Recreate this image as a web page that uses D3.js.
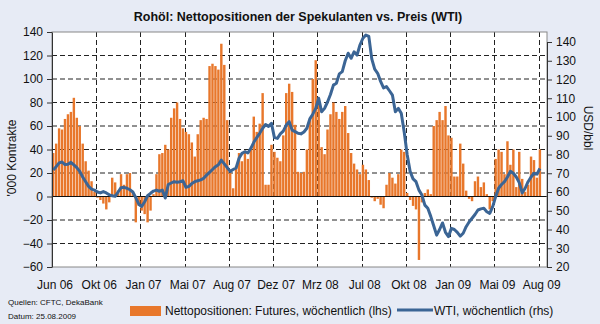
<!DOCTYPE html>
<html><head><meta charset="utf-8">
<script src="https://cdn.jsdelivr.net/npm/d3@7"></script>
<style>
html,body{margin:0;padding:0;background:#e7ebf5;}
svg{display:block;font-family:Arial,"Liberation Sans",sans-serif;}
</style></head>
<body><svg id="c" width="600" height="324"></svg>
<script>
// ---- data (weekly, Jun 2006 – Aug 2009) ----
const netPositions = [
 37,45,58,57,66,70,72,84,67,60,
 45,30,22,13,4,-1,-3,-6,-11,-5,
 16,12,5,19,10,19,20,3,-22,-8,
 -12,-15,-22,-12,2,19,36,37,44,40,
 67,75,80,66,58,55,53,46,34,53,
 65,67,66,111,113,111,108,130,112,65,
 20,7,26,37,30,39,32,41,68,55,
 62,88,10,10,44,38,33,30,52,88,
 96,89,61,21,20,21,40,65,100,116,
 84,42,36,57,70,80,72,66,72,77,
 54,37,28,23,19,27,23,14,-1,-4,
 -2,-7,-10,10,20,16,11,19,40,38,
 3,-3,-8,-11,-54,-5,3,6,2,60,
 65,72,65,77,52,50,17,17,45,28,
 5,-2,-4,13,17,8,12,2,-11,-4,
 32,40,38,19,47,27,40,8,38,15,
 4,10,34,31,16,40
];
const wti = [
 71.7,73.5,75.5,76,74.6,74.8,75.8,74.5,73,71,
 68,65.5,63,61.5,61,60,59.5,60.2,59.5,58.5,
 58,57.7,60,62.3,62.5,62,61.2,60,57,53.5,
 52.3,54.8,58,59.3,60.5,61,60.4,61,56.8,64,
 64.8,65.5,65.2,65.5,66,62.5,63,64.5,65.5,66,
 66.5,67.3,69,70.5,72,73.5,74.5,77,75,73,
 71,72,72.8,78,80.6,81.5,80.8,83.3,86.5,89,
 91.3,94,96,95,96.6,89,88.6,91,92.5,95.7,
 97.5,93,92.2,91.3,91,92,94,99,101.5,104.6,
 110,102.8,104.6,108,112,117,118,123,124.2,130,
 134,131.3,134.8,133,138.4,142,143.7,143,131,125.5,
 123.3,119,115.5,116.2,114,111.7,102.8,104.6,102,92,
 80,71,67,65.5,61,58.4,53,51.3,47,42,
 37,40,43.5,38.5,36.2,40.6,40,38.5,36.5,38,
 41.5,44,46,48,50.4,51,51.3,49.5,48.6,52.2,
 57.5,62,64,65.5,68,71,70,68,65,59.5,
 62,65.5,68,70,69.5,72.5
];
const xTickIndex = [0,15,30,45,60,75,90,105,120,135,150,165];
const xTickLabels = ["Jun 06","Okt 06","Jan 07","Mai 07","Aug 07","Dez 07","Mrz 08","Jul 08","Okt 08","Jan 09","Mai 09","Aug 09"];
const leftTicks = [-60,-40,-20,0,20,40,60,80,100,120,140];
const rightTicks = [20,30,40,50,60,70,80,90,100,110,120,130,140];
const title = "Rohöl: Nettopositionen der Spekulanten vs. Preis (WTI)";
const barLabel = "Nettopositionen: Futures, wöchentlich (lhs)";
const lineLabel = "WTI, wöchentlich (rhs)";
const nCategories = 168;

// ---- layout ----
const L = 52, R = 547, T = 32, B = 267;
const svg = d3.select("#c");
const barColor = "#e8772b", lineColor = "#3b6595";

const x = d3.scaleBand().domain(d3.range(nCategories)).range([L, R]).paddingInner(0.18).paddingOuter(0);
const step = x.step();
const xl = i => L + i * step;
const yL = d3.scaleLinear().domain([-60, 140]).range([B, T]);
const yR = d3.scaleLinear().domain([20, 140]).range([B, 42]);

svg.append("rect").attr("x", L).attr("y", T).attr("width", R - L).attr("height", B - T).attr("fill", "#fff");

// gridlines
const g = svg.append("g");
g.selectAll("line.h").data(leftTicks.filter(v => v !== 0 && v !== -60 && v !== 140)).join("line")
  .attr("x1", L).attr("x2", R).attr("y1", d => yL(d)).attr("y2", d => yL(d))
  .attr("stroke", "#222").attr("stroke-width", 1).attr("stroke-dasharray", "5,3");
g.selectAll("line.v").data(xTickIndex.slice(1)).join("line")
  .attr("x1", d => Math.round(xl(d)) + 0.5).attr("x2", d => Math.round(xl(d)) + 0.5).attr("y1", T).attr("y2", B)
  .attr("stroke", "#222").attr("stroke-width", 1).attr("stroke-dasharray", "5,3");

// bars
svg.append("g").selectAll("rect").data(netPositions).join("rect")
  .attr("x", (d, i) => x(i)).attr("width", x.bandwidth())
  .attr("y", d => yL(Math.max(0, d))).attr("height", d => Math.abs(yL(d) - yL(0)))
  .attr("fill", barColor);

// zero line
svg.append("line").attr("x1", L).attr("x2", R).attr("y1", yL(0)).attr("y2", yL(0)).attr("stroke", "#111").attr("stroke-width", 1.2);

// WTI line
svg.append("path").datum(wti)
  .attr("d", d3.line().x((d, i) => x(i) + x.bandwidth() / 2).y(d => yR(d)))
  .attr("fill", "none").attr("stroke", lineColor).attr("stroke-width", 3).attr("stroke-linejoin", "round");

// frame
svg.append("rect").attr("x", L).attr("y", T).attr("width", R - L).attr("height", B - T)
  .attr("fill", "none").attr("stroke", "#888").attr("stroke-width", 1);

// axes
const axL = svg.append("g").attr("transform", `translate(${L},0)`)
  .call(d3.axisLeft(yL).tickValues(leftTicks).tickSize(5).tickSizeOuter(0).tickFormat(d3.format("d")));
const axR = svg.append("g").attr("transform", `translate(${R},0)`)
  .call(d3.axisRight(yR).tickValues(rightTicks).tickSize(5).tickSizeOuter(0).tickFormat(d3.format("d")));
[axL, axR].forEach(a => {
  a.select(".domain").attr("stroke", "#333");
  a.selectAll(".tick line").attr("stroke", "#333");
  a.selectAll("text").attr("font-size", 12).attr("fill", "#111").attr("font-family", "Arial,'Liberation Sans',sans-serif");
});
axL.selectAll("text").attr("x", -9);
axR.selectAll("text").attr("x", 9);

// x labels
svg.append("g").selectAll("text").data(xTickIndex).join("text")
  .attr("x", d => xl(d) + 3).attr("y", 289).attr("text-anchor", "middle")
  .attr("font-size", 12).attr("fill", "#111").text((d, i) => xTickLabels[i]);

// title
svg.append("text").attr("x", 298).attr("y", 21).attr("text-anchor", "middle")
  .attr("font-size", 12.5).attr("font-weight", "bold").attr("fill", "#111").text(title);

// axis titles
svg.append("text").attr("transform", "translate(16,158) rotate(-90)").attr("text-anchor", "middle")
  .attr("font-size", 12).attr("fill", "#111").text("'000 Kontrakte");
svg.append("text").attr("transform", "translate(584,128) rotate(90)").attr("text-anchor", "middle")
  .attr("font-size", 12).attr("fill", "#111").text("USD/bbl");

// sources
svg.append("text").attr("x", 8).attr("y", 305).attr("font-size", 8).attr("fill", "#111").text("Quellen: CFTC, DekaBank");
svg.append("text").attr("x", 8).attr("y", 319).attr("font-size", 8).attr("fill", "#111").text("Datum: 25.08.2009");

// legend
svg.append("rect").attr("x", 130).attr("y", 306).attr("width", 31).attr("height", 10).attr("fill", barColor);
svg.append("text").attr("x", 165).attr("y", 315).attr("font-size", 12).attr("fill", "#111").text(barLabel);
svg.append("line").attr("x1", 397).attr("x2", 433).attr("y1", 310).attr("y2", 310).attr("stroke", lineColor).attr("stroke-width", 3);
svg.append("text").attr("x", 434).attr("y", 315).attr("font-size", 12).attr("fill", "#111").text(lineLabel);
</script></body></html>
